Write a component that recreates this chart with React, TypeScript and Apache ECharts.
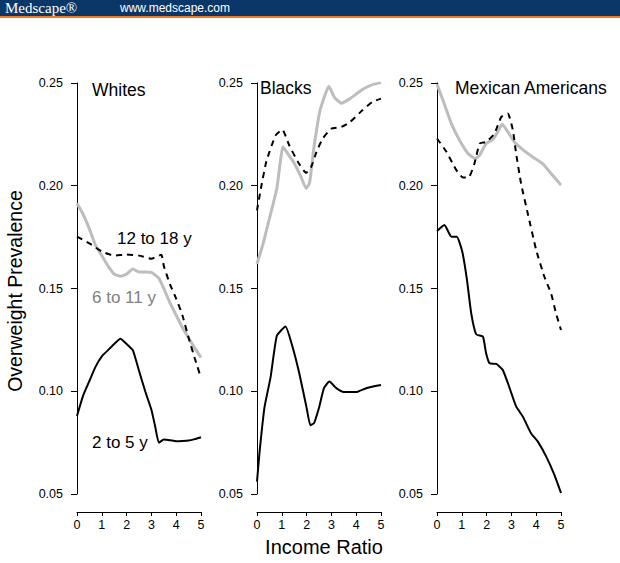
import React, { useEffect, useRef } from "react";
import * as echarts from "echarts";

// Panels
const panelTitles = ["Whites", "Blacks", "Mexican Americans"];
const yTicks = [0.05, 0.1, 0.15, 0.2, 0.25];
const xTicks = [0, 1, 2, 3, 4, 5];

// [income ratio, prevalence]
const whites2to5: [number, number][] = [
  [0, 0.088], [0.25, 0.098], [0.5, 0.105], [0.75, 0.112], [1.0, 0.117], [1.25, 0.12],
  [1.5, 0.123], [1.75, 0.1255], [2.0, 0.123], [2.25, 0.12], [2.5, 0.11], [2.75, 0.1],
  [3.0, 0.091], [3.15, 0.083], [3.3, 0.075], [3.5, 0.0765], [3.75, 0.0762], [4.0, 0.0757],
  [4.25, 0.0758], [4.5, 0.076], [4.75, 0.0767], [5.0, 0.0776],
];
const whites6to11: [number, number][] = [
  [0, 0.1915], [0.25, 0.186], [0.5, 0.179], [0.75, 0.171], [1.0, 0.166], [1.25, 0.161],
  [1.5, 0.157], [1.75, 0.156], [2.0, 0.157], [2.25, 0.1595], [2.5, 0.158], [2.75, 0.158],
  [3.0, 0.1578], [3.3, 0.155], [3.5, 0.15], [3.75, 0.143], [4.0, 0.137], [4.25, 0.131],
  [4.5, 0.126], [4.75, 0.121], [5.0, 0.1164],
];
const whites12to18: [number, number][] = [
  [0, 0.1753], [0.5, 0.172], [1.0, 0.168], [1.5, 0.166], [2.0, 0.1665], [2.5, 0.166],
  [3.0, 0.1645], [3.4, 0.1664], [3.5, 0.161], [3.75, 0.152], [4.0, 0.145], [4.25, 0.137],
  [4.5, 0.126], [4.75, 0.116], [5.0, 0.1065],
];

const blacks2to5: [number, number][] = [
  [0, 0.056], [0.1, 0.07], [0.3, 0.092], [0.55, 0.107], [0.8, 0.127], [1.15, 0.1315],
  [1.4, 0.123], [1.7, 0.109], [2.0, 0.092], [2.15, 0.0835], [2.3, 0.0845], [2.5, 0.092],
  [2.7, 0.1015], [2.92, 0.1047], [3.2, 0.1015], [3.5, 0.0996], [4.0, 0.0996], [4.4, 0.1015],
  [5.0, 0.103],
];
const blacks6to11: [number, number][] = [
  [0, 0.162], [0.25, 0.172], [0.5, 0.184], [0.8, 0.1987], [1.05, 0.219], [1.25, 0.2155],
  [1.5, 0.211], [1.75, 0.205], [1.98, 0.1987], [2.12, 0.2015], [2.3, 0.219], [2.55, 0.237],
  [2.9, 0.2484], [3.12, 0.243], [3.4, 0.2402], [3.75, 0.2424], [4.25, 0.2468], [4.6, 0.249],
  [5.0, 0.2502],
];
const blacks12to18: [number, number][] = [
  [0, 0.188], [0.17, 0.1995], [0.38, 0.212], [0.75, 0.2245], [1.02, 0.2273], [1.3, 0.2197],
  [1.65, 0.2116], [1.98, 0.2063], [2.18, 0.209], [2.4, 0.2165], [2.65, 0.223], [3.0, 0.2278],
  [3.4, 0.2286], [3.75, 0.231], [4.25, 0.2367], [4.65, 0.2408], [5.0, 0.2424],
];

const mex2to5: [number, number][] = [
  [0, 0.178], [0.3, 0.1809], [0.58, 0.1752], [0.8, 0.1752], [1.02, 0.1679], [1.21, 0.1541],
  [1.38, 0.1379], [1.58, 0.1277], [1.85, 0.1266], [1.98, 0.1185], [2.12, 0.1136],
  [2.39, 0.1133], [2.65, 0.1104], [2.86, 0.1039], [3.19, 0.0926], [3.46, 0.0877],
  [3.79, 0.0796], [4.06, 0.0756], [4.4, 0.0683], [4.73, 0.0594], [5.0, 0.0505],
];
const mex6to11: [number, number][] = [
  [0, 0.2494], [0.24, 0.2416], [0.58, 0.2302], [0.91, 0.2221], [1.25, 0.2157], [1.55, 0.2132],
  [1.72, 0.2149], [1.98, 0.2205], [2.25, 0.2225], [2.45, 0.2262], [2.63, 0.2299],
  [2.86, 0.2262], [3.12, 0.2213], [3.46, 0.2176], [3.86, 0.214], [4.26, 0.2108],
  [4.66, 0.2051], [5.0, 0.2003],
];
const mex12to18: [number, number][] = [
  [0, 0.223], [0.38, 0.2165], [0.78, 0.2076], [1.05, 0.204], [1.3, 0.2043], [1.51, 0.2108],
  [1.72, 0.2205], [1.98, 0.2213], [2.32, 0.2254], [2.59, 0.2335], [2.86, 0.2351],
  [3.06, 0.227], [3.19, 0.2157], [3.39, 0.2011], [3.66, 0.1865], [4.0, 0.1687],
  [4.33, 0.1557], [4.6, 0.1476], [4.8, 0.1379], [5.0, 0.1298],
];

const panelSeries = [
  [whites2to5, whites6to11, whites12to18],
  [blacks2to5, blacks6to11, blacks12to18],
  [mex2to5, mex6to11, mex12to18],
];

const ageLabels = ["2 to 5 y", "6 to 11 y", "12 to 18 y"];

const FONT = "'Liberation Sans', Arial, sans-serif";

export default function App() {
  const ref = useRef<HTMLDivElement>(null);

  useEffect(() => {
    if (!ref.current) return;
    const chart = echarts.init(ref.current, undefined, { renderer: "svg" });
    const lefts = [77, 257, 437];
    const grids = lefts.map((l) => ({ left: l, top: 83, width: 124, height: 411 }));
    const xAxes = lefts.map((_, i) => ({
      type: "value",
      gridIndex: i,
      min: xTicks[0],
      max: xTicks[xTicks.length - 1],
      interval: 1,
      offset: 18,
      axisLine: { show: true, lineStyle: { color: "#000", width: 1 } },
      axisTick: { show: true, inside: false, length: 4, lineStyle: { color: "#000", width: 1 } },
      axisLabel: { color: "#000", fontSize: 12.5, fontFamily: FONT, margin: 6 },
      splitLine: { show: false },
    }));
    const yAxes = lefts.map((_, i) => ({
      type: "value",
      gridIndex: i,
      min: yTicks[0],
      max: yTicks[yTicks.length - 1],
      interval: 0.05,
      offset: 5,
      axisLine: { show: true, lineStyle: { color: "#000", width: 1 } },
      axisTick: { show: true, inside: false, length: 6, lineStyle: { color: "#000", width: 1 } },
      axisLabel: {
        color: "#000",
        fontSize: 12.5,
        fontFamily: FONT,
        margin: 9,
        formatter: (v: number) => v.toFixed(2),
      },
      splitLine: { show: false },
    }));
    const series: any[] = [];
    panelSeries.forEach((group, i) => {
      const styles = [
        { color: "#000000", width: 2, type: "solid" },
        { color: "#bdbdbd", width: 3, type: "solid" },
        { color: "#000000", width: 2, type: [6, 5] },
      ];
      group.forEach((data, k) => {
        series.push({
          type: "line",
          name: `${panelTitles[i]} ${ageLabels[k]}`,
          xAxisIndex: i,
          yAxisIndex: i,
          data,
          showSymbol: false,
          smooth: 0.15,
          lineStyle: styles[k],
          z: k === 1 ? 2 : 3,
        });
      });
    });

    const textStyle = (extra: any) => ({ fontFamily: FONT, fill: "#000", ...extra });

    chart.setOption({
      animation: false,
      backgroundColor: "#ffffff",
      grid: grids,
      xAxis: xAxes,
      yAxis: yAxes,
      series,
      graphic: [
        { type: "rect", shape: { x: 0, y: 0, width: 620, height: 16 }, style: { fill: "#0b3768" } },
        { type: "rect", shape: { x: 0, y: 16, width: 620, height: 2 }, style: { fill: "#ee7d22" } },
        {
          type: "text", x: 5, y: 8,
          style: { text: "Medscape\u00ae", font: "15px 'Liberation Serif', 'Times New Roman', serif", fill: "#fff", verticalAlign: "middle" },
        },
        {
          type: "text", x: 120, y: 8,
          style: textStyle({ text: "www.medscape.com", fontSize: 12, fill: "#fff", verticalAlign: "middle" }),
        },
        { type: "text", x: 92, y: 90, style: textStyle({ text: panelTitles[0], fontSize: 17.5, verticalAlign: "middle" }) },
        { type: "text", x: 260, y: 88, style: textStyle({ text: panelTitles[1], fontSize: 17.5, verticalAlign: "middle" }) },
        { type: "text", x: 455, y: 88, style: textStyle({ text: panelTitles[2], fontSize: 17.5, verticalAlign: "middle" }) },
        { type: "text", x: 117, y: 238, style: textStyle({ text: ageLabels[2], fontSize: 17, verticalAlign: "middle" }) },
        { type: "text", x: 92, y: 297, style: textStyle({ text: ageLabels[1], fontSize: 17, fill: "#808080", verticalAlign: "middle" }) },
        { type: "text", x: 92, y: 442, style: textStyle({ text: ageLabels[0], fontSize: 17, verticalAlign: "middle" }) },
        {
          type: "text", x: 324, y: 547,
          style: textStyle({ text: "Income Ratio", fontSize: 20, align: "center", verticalAlign: "middle" }),
        },
        {
          type: "text", x: 15, y: 291, rotation: Math.PI / 2,
          style: textStyle({ text: "Overweight Prevalence", fontSize: 19.5, align: "center", verticalAlign: "middle" }),
        },
      ],
    });
    return () => chart.dispose();
  }, []);

  return (
    <div
      ref={ref}
      style={{ position: "fixed", left: 0, top: 0, width: 620, height: 563, background: "#fff" }}
    />
  );
}
